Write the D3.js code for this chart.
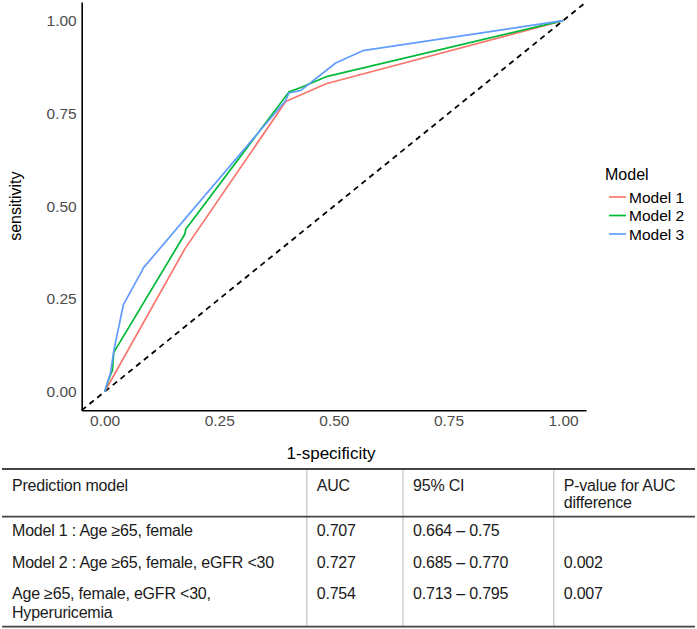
<!DOCTYPE html>
<html>
<head>
<meta charset="utf-8">
<script src="https://cdn.jsdelivr.net/npm/d3@7"></script>
<style>
  body { margin: 0; background: #fff; }
  svg { display: block; font-family: "Liberation Sans", Arial, sans-serif; }
</style>
</head>
<body>
<div id="chart"></div>
<script>
// ROC points (1-specificity, sensitivity)
const modelNames = ['Model 1', 'Model 2', 'Model 3'];
const model1Fpr = [0, 0.175, 0.395, 0.483, 1];
const model1Tpr = [0, 0.385, 0.782, 0.830, 1];
const model2Fpr = [0, 0.009, 0.017, 0.020, 0.175, 0.177, 0.402, 0.428, 0.486, 1];
const model2Tpr = [0, 0.034, 0.058, 0.106, 0.425, 0.438, 0.808, 0.820, 0.850, 1];
const model3Fpr = [0, 0.013, 0.020, 0.041, 0.082, 0.084, 0.395, 0.402, 0.428, 0.504, 0.563, 1];
const model3Tpr = [0, 0.052, 0.110, 0.235, 0.327, 0.333, 0.785, 0.805, 0.812, 0.886, 0.919, 1];
const axisTicks = [0, 0.25, 0.5, 0.75, 1];

// table under the plot
const tableHeader = ['Prediction model', 'AUC', '95% CI', 'P-value for AUC\ndifference'];
const tableRows = [
  ['Model 1 : Age \u226565, female', '0.707', '0.664 \u2013 0.75', ''],
  ['Model 2 : Age \u226565, female, eGFR <30', '0.727', '0.685 \u2013 0.770', '0.002'],
  ['Age \u226565, female, eGFR <30,\nHyperuricemia', '0.754', '0.713 \u2013 0.795', '0.007']
];

const width = 697, height = 629;
const colors = ['#F8766D', '#00BA38', '#619CFF'];

const svg = d3.select('#chart').append('svg')
  .attr('width', width)
  .attr('height', height);

// panel: ggplot-style expansion of 5% on both ends
const x = d3.scaleLinear().domain([-0.05, 1.05]).range([81.7, 586]);
const y = d3.scaleLinear().domain([-0.05, 1.05]).range([410.3, 2.1]);

const series = [
  model1Fpr.map((f, i) => [f, model1Tpr[i]]),
  model2Fpr.map((f, i) => [f, model2Tpr[i]]),
  model3Fpr.map((f, i) => [f, model3Tpr[i]])
];

const line = d3.line().x(d => x(d[0])).y(d => y(d[1]));

// reference diagonal
svg.append('path')
  .attr('d', line([[-0.05, -0.05], [1.05, 1.05]]))
  .attr('fill', 'none')
  .attr('stroke', '#000')
  .attr('stroke-width', 1.8)
  .attr('stroke-dasharray', '5.5,4.5');

svg.selectAll('.roc')
  .data(series)
  .enter()
  .append('path')
  .attr('class', 'roc')
  .attr('d', line)
  .attr('fill', 'none')
  .attr('stroke', (d, i) => colors[i])
  .attr('stroke-width', 1.7)
  .attr('stroke-linejoin', 'round');

// axes
const xAxis = svg.append('g')
  .attr('transform', `translate(0,${y(-0.05)})`)
  .call(d3.axisBottom(x).tickValues(axisTicks).tickFormat(d3.format('.2f')).tickSize(0).tickPadding(5));
const yAxis = svg.append('g')
  .attr('transform', `translate(${x(-0.05)},0)`)
  .call(d3.axisLeft(y).tickValues(axisTicks).tickFormat(d3.format('.2f')).tickSize(0).tickPadding(5));

[xAxis, yAxis].forEach(g => {
  g.select('.domain').attr('stroke', '#000').attr('stroke-width', 1.6);
  g.selectAll('text')
    .attr('fill', '#4D4D4D')
    .style('font-size', '15.5px')
    .style('font-family', '"Liberation Sans", Arial, sans-serif');
});

svg.append('text')
  .attr('x', 331)
  .attr('y', 453)
  .attr('text-anchor', 'middle')
  .attr('dominant-baseline', 'central')
  .style('font-size', '17px')
  .text('1-specificity');

svg.append('text')
  .attr('transform', `translate(15,${y(0.5)}) rotate(-90)`)
  .attr('text-anchor', 'middle')
  .attr('dominant-baseline', 'central')
  .style('font-size', '16px')
  .text('sensitivity');

// legend
const legend = svg.append('g').attr('transform', 'translate(605,0)');
legend.append('text')
  .attr('x', 0).attr('y', 174)
  .attr('dominant-baseline', 'central')
  .style('font-size', '16px')
  .text('Model');
modelNames.forEach((name, i) => {
  const ly = 197 + i * 18.5;
  legend.append('line')
    .attr('x1', 4).attr('x2', 21)
    .attr('y1', ly).attr('y2', ly)
    .attr('stroke', colors[i]).attr('stroke-width', 1.7);
  legend.append('text')
    .attr('x', 24).attr('y', ly)
    .attr('dominant-baseline', 'central')
    .style('font-size', '15.5px')
    .text(name);
});

// table
const colX = [2, 306.7, 403, 553.7, 695];
const topRule = 469, headRule = 516.7, bottomRule = 626.7;
const headerLines = [485, 502];
const rowLines = [[530.7], [562.7], [593.3, 612]];
const table = svg.append('g');

table.selectAll('.vsep')
  .data(colX.slice(1, 4))
  .enter()
  .append('line')
  .attr('x1', d => d).attr('x2', d => d)
  .attr('y1', topRule).attr('y2', bottomRule)
  .attr('stroke', '#cfcfcf').attr('stroke-width', 1.5);

[topRule, headRule, bottomRule].forEach(ry => {
  table.append('line')
    .attr('x1', colX[0]).attr('x2', colX[4])
    .attr('y1', ry).attr('y2', ry)
    .attr('stroke', '#444').attr('stroke-width', 1.8);
});

function cell(textVal, col, lineYs) {
  textVal.split('\n').forEach((t, k) => {
    table.append('text')
      .attr('x', colX[col] + 10)
      .attr('y', lineYs[k])
      .attr('dominant-baseline', 'central')
      .attr('fill', '#1a1a1a')
      .style('font-size', '16px')
      .style('letter-spacing', '-0.2px')
      .text(t);
  });
}

tableHeader.forEach((h, c) => cell(h, c, headerLines));
tableRows.forEach((row, r) => row.forEach((v, c) => cell(v, c, rowLines[r])));
</script>
</body>
</html>
